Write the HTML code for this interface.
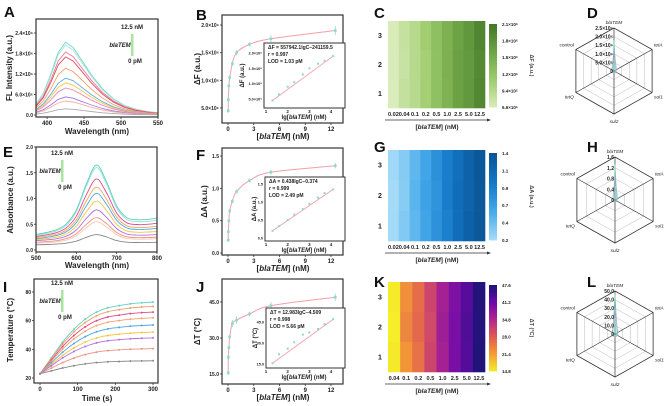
<!DOCTYPE html>
<html><head><meta charset="utf-8"><style>
html,body{margin:0;padding:0;background:#fff}
svg{display:block;font-family:"Liberation Sans",Arial,sans-serif}
</style></head><body>
<svg id="fig" width="669" height="406" viewBox="0 0 669 406" xmlns="http://www.w3.org/2000/svg"></svg>
<script>
// ---------- DATA ----------
const conc=[0.02,0.04,0.1,0.2,0.5,1.0,2.5,5.0,12.5];
const lgc=[1.3,1.6,2.0,2.3,2.7,3.0,3.4,3.7,4.1];
const dF=[0.45,0.65,0.9,1.05,1.3,1.5,1.65,1.75,1.9];
const errF=[0.04,0.05,0.05,0.04,0.04,0.05,0.04,0.06,0.08];
const dA=[0.2,0.33,0.5,0.65,0.8,0.95,1.12,1.25,1.35];
const errA=[0.03,0.03,0.03,0.03,0.03,0.03,0.03,0.04,0.04];
const dT=[15.5,22,26,30.5,36,37.5,40,43.5,47];
const errT=[1,1.2,1,1,1.5,1.5,1,1.5,1.5];
// spectra A
const wlA=[385,395,405,415,425,435,445,460,475,490,505,520,535,550];
const profA=[0.15,0.3,0.56,0.86,1.0,0.93,0.78,0.55,0.36,0.22,0.13,0.08,0.05,0.03];
const peaksA=[2.13,2.05,1.84,1.70,1.37,1.08,0.94,0.79,0.53,0.41,0.18];
const colA=['#6fd6c8','#a8e3dc','#f07a9a','#e04a5a','#f0a070','#5aaee0','#f5c84a','#f08ab0','#a57ae8','#f4b0a0','#aaaaaa'];
// spectra E
const wlE=[500,525,550,575,600,625,650,675,700,725,750,775,800];
const profE=[0,0.01,0.03,0.1,0.3,0.7,1,0.72,0.3,0.08,0.02,0,0];
const peaksE=[1.65,1.6,1.38,1.22,1.1,0.95,0.78,0.63,0.55,0.3];
const leftE=[0.3,0.28,0.26,0.24,0.22,0.2,0.18,0.15,0.13,0.1];
const rightE=[0.62,0.58,0.52,0.46,0.42,0.36,0.3,0.25,0.22,0.15];
const colE=['#5fd0b8','#8ee0e0','#e04a8a','#f0a860','#4aa8e0','#f5c542','#b070e0','#f09080','#f5c8b0','#888888'];
// temperature I
const timeI=[0,30,60,90,120,150,180,210,240,270,300];
const profI=[0,0.22,0.44,0.62,0.76,0.86,0.92,0.95,0.975,0.99,1];
const plateauI=[73,70,66,62,57,52,48,40.5,32];
const colI=['#5fd0c8','#f0a060','#e04a8a','#f5a070','#4aa8e0','#f5c542','#b070e0','#f09080','#888888'];
// heatmaps
const labC=['0.02','0.04','0.1','0.2','0.5','1.0','2.5','5.0','12.5'];
const heatC=[[6.8,8.3,9.6,11.2,13.1,14.8,16.4,17.6,19.6],[6.7,8.2,9.5,11.0,12.9,14.9,16.6,17.4,19.2],[6.6,8.4,9.4,11.1,13.0,14.7,16.5,17.5,19.4]];
const ticksC=['2.1×10⁶','1.8×10⁶','1.5×10⁶','1.2×10⁶','9.4×10⁵','6.6×10⁵'];
const heatG=[[0.24,0.35,0.5,0.64,0.8,0.95,1.1,1.25,1.38],[0.22,0.34,0.52,0.66,0.78,0.96,1.12,1.24,1.36],[0.23,0.36,0.5,0.65,0.79,0.94,1.11,1.26,1.37]];
const ticksG=['1.4','1.1','0.9','0.7','0.4','0.2'];
const labK=['0.04','0.1','0.2','0.5','1.0','2.5','5.0','12.5'];
const heatK=[[15.2,23,26.5,31,36,39.5,43,47.2],[15,24,27,30.5,36.5,40,43.5,47],[15.3,22.5,26,31,36,40,43.2,47.4]];
const ticksK=['47.6','41.2','34.8','28.0','21.4','14.8'];
// radar
const radarAxes=['blaTEM','tetA','sul1','sul2','tetQ','control'];
const radarD=[1.8,0.12,0.1,0.08,0.1,0.09];
const radarH=[1.35,0.08,0.06,0.05,0.07,0.05];
const radarL=[47,3,3,3,3,3];

// ---------- HELPERS ----------
const NS='http://www.w3.org/2000/svg';
const svg=document.getElementById('fig');
function mk(tag,attrs,parent,name,inter){
  const e=document.createElementNS(NS,tag);
  for(const k in attrs)e.setAttribute(k,attrs[k]);
  
  
  (parent||svg).appendChild(e);return e;
}
function txt(x,y,s,o,name,parent){
  o=o||{};
  const e=mk('text',{x:x,y:y,'font-size':o.size||5.5,'font-weight':o.bold===false?'normal':'bold','text-anchor':o.anchor||'middle',fill:o.fill||'#222','font-style':o.italic?'italic':'normal'},parent,name,false);
  if(o.rot)e.setAttribute('transform','rotate('+o.rot+' '+x+' '+y+')');
  e.innerHTML=s;return e;
}
function lin(d0,d1,r0,r1){return v=>r0+(v-d0)/(d1-d0)*(r1-r0);}
function box(x0,y0,x1,y1,name,w){mk('rect',{x:x0,y:y0,width:x1-x0,height:y1-y0,fill:'none',stroke:'#333',"stroke-width":w||1.2},svg,name,false);}
function yticks(vals,labels,sy,x0,name){vals.forEach((v,i)=>{const y=sy(v);
  mk('line',{x1:x0-2,x2:x0,y1:y,y2:y,stroke:'#333','stroke-width':0.8},svg,name+'-tick',false);
  txt(x0-3,y+2,labels[i],{anchor:'end',size:5},name+'-label');});}
function xticks(vals,labels,sx,y0,name,size,dy){vals.forEach((v,i)=>{const x=sx(v);
  mk('line',{x1:x,x2:x,y1:y0,y2:y0+2,stroke:'#333','stroke-width':0.8},svg,name+'-tick',false);
  txt(x,y0+(dy||8),labels[i],{size:size||6},name+'-label');});}
function pathOf(xs,ys){return xs.map((x,i)=>(i?'L':'M')+x.toFixed(1)+' '+ys[i].toFixed(1)).join(' ');}
function smooth(pts){let d='M'+pts[0][0]+' '+pts[0][1];
  for(let i=0;i<pts.length-1;i++){const p0=pts[i-1]||pts[i],p1=pts[i],p2=pts[i+1],p3=pts[i+2]||p2;
    d+=' C'+(p1[0]+(p2[0]-p0[0])/6).toFixed(1)+' '+(p1[1]+(p2[1]-p0[1])/6).toFixed(1)+' '+(p2[0]-(p3[0]-p1[0])/6).toFixed(1)+' '+(p2[1]-(p3[1]-p1[1])/6).toFixed(1)+' '+p2[0].toFixed(1)+' '+p2[1].toFixed(1);}
  return d;}
function panelLabel(x,y,s){txt(x,y,s,{size:15,anchor:'start',fill:'#111'},'panel-label-'+s.toLowerCase());}
function legendBar(x,y){txt(x+12,y,'12.5 nM',{size:6},'legend-high');
  mk('rect',{x:x+11,y:y+5,width:2.5,height:22,fill:'#a8e6a0'},svg,'legend-gradient-bar',false);
  txt(x,y+18,'blaTEM',{size:6,italic:true,anchor:'middle'},'legend-gene');
  txt(x+15,y+34,'0 pM',{size:6},'legend-low');}

// ---------- PANEL A ----------
panelLabel(4,17,'A');
(function(){const x0=36,x1=158,y0=19,y1=117;
 const sx=lin(385,550,x0,x1),sy=lin(0,2.4,115,33);
 peaksA.forEach((p,i)=>{mk('path',{d:pathOf(wlA.map(sx),profA.map(v=>sy(v*p))),fill:'none',stroke:colA[i],'stroke-width':0.9},svg,'spectrum-a-'+i,false);});
 box(x0,y0,x1,y1,'plot-a-frame');
 yticks([0,0.6,1.2,1.8,2.4],['0.0','6.0×10⁵','1.2×10⁶','1.8×10⁶','2.4×10⁶'],sy,x0,'a-ytick');
 xticks([400,450,500,550],['400','450','500','550'],sx,y1,'a-xtick');
 txt(97,134,'Wavelength (nm)',{size:8},'a-x-title');
 txt(12,68,'FL Intensity (a.u.)',{size:8,rot:-90},'a-y-title');
 legendBar(120,29);})();

// ---------- PANEL E ----------
panelLabel(3,157,'E');
(function(){const x0=36,x1=157,y0=147,y1=252;
 const sx=lin(500,800,x0,x1),sy=lin(0,2,250,147);
 peaksE.forEach((p,i)=>{const ys=wlE.map((w,j)=>{const b=leftE[i]+(rightE[i]-leftE[i])*j/(wlE.length-1);return sy(b+(p-b)*profE[j]);});
  mk('path',{d:smooth(wlE.map((w,j)=>[sx(w),ys[j]])),fill:'none',stroke:colE[i],'stroke-width':0.9},svg,'spectrum-e-'+i,false);});
 box(x0,y0,x1,y1,'plot-e-frame');
 yticks([0,0.5,1,1.5,2],['0.0','0.5','1.0','1.5','2.0'],sy,x0,'e-ytick');
 xticks([500,600,700,800],['500','600','700','800'],sx,y1,'e-xtick');
 txt(97,268,'Wavelength (nm)',{size:8},'e-x-title');
 txt(13,200,'Absorbance (a.u.)',{size:8,rot:-90},'e-y-title');
 legendBar(50,155);})();

// ---------- PANEL I ----------
panelLabel(3,292,'I');
(function(){const x0=34,x1=158,y0=279,y1=383;
 const sx=lin(0,300,40,153),sy=lin(20,80,378,292);
 plateauI.forEach((p,i)=>{const pts=timeI.map((t,j)=>[sx(t),sy(23+(p-23)*profI[j])]);
  mk('path',{d:smooth(pts),fill:'none',stroke:colI[i],'stroke-width':0.9},svg,'heating-curve-'+i,false);
  pts.forEach(q=>mk('circle',{cx:q[0],cy:q[1],r:1,fill:colI[i]},svg,'heating-point',false));});
 box(x0,y0,x1,y1,'plot-i-frame');
 yticks([20,40,60,80],['20','40','60','80'],sy,x0,'i-ytick');
 xticks([0,100,200,300],['0','100','200','300'],sx,y1,'i-xtick');
 txt(97,401,'Time (s)',{size:8},'i-x-title');
 txt(13,330,'Temperature (°C)',{size:8,rot:-90},'i-y-title');
 legendBar(50,285);})();

// ---------- CALIBRATION PANELS ----------
function calib(o){
 const x0=222,x1=343;
 const sx=lin(0,12,228,331),sy=lin(o.yd[0],o.yd[1],o.yr[0],o.yr[1]);
 const pts=conc.map((c,i)=>[sx(c),sy(o.vals[i])]);
 mk('path',{d:smooth(pts),fill:'none',stroke:'#f2a0a8','stroke-width':1},svg,o.id+'-fit-curve',false);
 pts.forEach((p,i)=>{const ee=Math.abs(sy(o.yd[0]+o.err[i])-sy(o.yd[0]));
  mk('line',{x1:p[0],x2:p[0],y1:p[1]-ee,y2:p[1]+ee,stroke:'#8fd8d0','stroke-width':0.8},svg,o.id+'-errorbar',false);
  mk('rect',{x:p[0]-1.3,y:p[1]-1.3,width:2.6,height:2.6,fill:'#8fd8d0'},svg,o.id+'-point',false);});
 box(x0,o.top,x1,o.bot,o.id+'-frame');
 yticks(o.yt,o.ytl,sy,x0,o.id+'-ytick');
 xticks([0,3,6,9,12],['0','3','6','9','12'],sx,o.bot,o.id+'-xtick');
 txt(283,o.bot+16,'[<tspan font-style="italic">blaTEM</tspan>] (nM)',{size:8},o.id+'-x-title');
 txt(o.ytx,(o.top+o.bot)/2,o.ytitle,{size:8,rot:-90},o.id+'-y-title');
 // inset
 const ib=o.inset;
 mk('rect',{x:ib[0],y:ib[1],width:ib[2]-ib[0],height:ib[3]-ib[1],fill:'#fff',stroke:'#333','stroke-width':1},svg,o.id+'-inset-frame',false);
 const ix=lin(1,4,266,331),iy=lin(o.iyd[0],o.iyd[1],o.iyr[0],o.iyr[1]);
 const ipts=lgc.map((l,i)=>[ix(l),iy(o.vals[i])]);
 mk('line',{x1:ipts[0][0],y1:ipts[0][1],x2:ipts[8][0],y2:ipts[8][1],stroke:'#f2a0a8','stroke-width':0.9},svg,o.id+'-inset-fit',false);
 ipts.forEach(p=>mk('rect',{x:p[0]-1,y:p[1]-1,width:2,height:2,fill:'#8fd8d0'},svg,o.id+'-inset-point',false));
 o.iyt.forEach((v,i)=>{txt(ib[0]-2,iy(v)+1.5,o.iytl[i],{anchor:'end',size:3.8},o.id+'-inset-ytick');});
 [1,2,3,4].forEach(v=>txt(ix(v),ib[3]+5,String(v),{size:4.5},o.id+'-inset-xtick'));
 txt(304,ib[3]+11,'lg[<tspan font-style="italic">blaTEM</tspan>] (nM)',{size:6},o.id+'-inset-x-title');
 txt(o.iytx,(ib[1]+ib[3])/2,o.iytitle,{size:6,rot:-90},o.id+'-inset-y-title');
 o.eq.forEach((s,i)=>txt(ib[0]+4,ib[1]+6+i*7,s,{size:5,anchor:'start'},o.id+'-equation-line'));
}
panelLabel(196,20,'B');
calib({id:'b',vals:dF,err:errF,yd:[0.5,2.0],yr:[108,25],top:15,bot:123,yt:[0.5,1,1.5,2],ytl:['5.0×10⁵','1.0×10⁶','1.5×10⁶','2.0×10⁶'],ytx:200,ytitle:'ΔF (a.u.)',
 inset:[264,43,345,108],iyd:[0.5,2.0],iyr:[99,53],iyt:[0.5,1,1.5,2],iytl:['5.0×10⁵','1.0×10⁶','1.5×10⁶','2.0×10⁶'],iytx:244,iytitle:'ΔF (a.u.)',
 eq:['ΔF = 557942.1lgC−241159.5','r = 0.997','LOD = 1.03 pM']});
panelLabel(196,160,'F');
calib({id:'f',vals:dA,err:errA,yd:[0,1.5],yr:[253,156],top:148,bot:255,yt:[0,0.5,1,1.5],ytl:['0.0','0.5','1.0','1.5'],ytx:207,ytitle:'ΔA (a.u.)',
 inset:[265,177,345,241],iyd:[0,1.5],iyr:[238,184],iyt:[0,0.5,1,1.5],iytl:['0.0','0.5','1.0','1.5'],iytx:256,iytitle:'ΔA (a.u.)',
 eq:['ΔA = 0.438lgC−0.374',' r = 0.999','LOD = 2.49 pM']});
panelLabel(196,292,'J');
calib({id:'j',vals:dT,err:errT,yd:[15,45],yr:[374,302],top:279,bot:384,yt:[15,30,45],ytl:['15.0','30.0','45.0'],ytx:200,ytitle:'ΔT (°C)',
 inset:[266,308,345,368],iyd:[15,45],iyr:[364,322],iyt:[15,30,45],iytl:['15.0','30.0','45.0'],iytx:257,iytitle:'ΔT (°C)',
 eq:['ΔT = 12.983lgC−4.509',' r = 0.998','LOD = 5.66 pM']});

// ---------- HEATMAPS ----------
function interp(stops,t){t=Math.max(0,Math.min(1,t));const n=stops.length-1,k=Math.min(n-1,Math.floor(t*n)),f=t*n-k;
 const a=stops[k],b=stops[k+1];return 'rgb('+[0,1,2].map(i=>Math.round(a[i]+(b[i]-a[i])*f)).join(',')+')';}
function heat(o){
 const x0=388,x1=485,rows=o.data.length,cols=o.labels.length,cw=(x1-x0)/cols,rh=(o.y1-o.y0)/rows;
 o.data.forEach((row,r)=>row.forEach((v,c)=>{
  mk('rect',{x:(x0+c*cw).toFixed(2),y:(o.y0+r*rh).toFixed(2),width:(cw+0.3).toFixed(2),height:(rh+0.3).toFixed(2),fill:interp(o.stops,(v-o.min)/(o.max-o.min))},svg,o.id+'-cell',false);}));
 ['3','2','1'].forEach((s,r)=>txt(380,o.y0+rh*(r+0.5)+2.5,s,{size:7},o.id+'-row-label'));
 o.labels.forEach((s,c)=>txt(x0+cw*(c+0.5),o.y1+8,s,{size:5.6},o.id+'-col-label'));
 mk('line',{x1:385,x2:488,y1:o.y1+12,y2:o.y1+12,stroke:'#333','stroke-width':0.8},svg,o.id+'-axis-arrow',false);
 mk('path',{d:'M491 '+(o.y1+12)+' l-4 -1.5 l0 3 z',fill:'#333'},svg,o.id+'-arrowhead',false);
 txt(437,o.y1+21,'[<tspan font-style="italic">blaTEM</tspan>] (nM)',{size:6.5},o.id+'-x-title');
 const cy0=o.y0+3,cy1=o.y1-1,n=40;
 for(let i=0;i<n;i++){mk('rect',{x:489,y:(cy0+(cy1-cy0)*i/n).toFixed(2),width:8,height:((cy1-cy0)/n+0.4).toFixed(2),fill:interp(o.stops,1-i/n)},svg,o.id+'-colorbar-step',false);}
 o.ticks.forEach((s,i)=>txt(502,cy0+(cy1-cy0)*i/(o.ticks.length-1)+2,s,{size:4.5,anchor:'start'},o.id+'-colorbar-tick'));
 txt(530,(cy0+cy1)/2,o.title,{size:5.5,rot:90,fill:'#444'},o.id+'-colorbar-title');
}
panelLabel(374,18,'C');
heat({id:'c',data:heatC,labels:labC,y0:21,y1:108,min:6.6,max:21,ticks:ticksC,title:'ΔF (a.u.)',stops:[[218,236,188],[160,205,110],[110,165,70],[70,120,40]]});
panelLabel(374,152,'G');
heat({id:'g',data:heatG,labels:labC,y0:150,y1:241,min:0.2,max:1.4,ticks:ticksG,title:'ΔA (a.u.)',stops:[[170,222,248],[70,170,235],[20,120,200],[10,85,150]]});
panelLabel(374,287,'K');
heat({id:'k',data:heatK,labels:labK,y0:282,y1:372,min:14.8,max:47.6,ticks:ticksK,title:'ΔT (°C)',stops:[[245,240,40],[245,160,50],[225,95,80],[180,40,140],[110,10,170],[30,20,120]]});

// ---------- RADAR ----------
function radar(o){
 const cx=o.cx,cy=o.cy,rx=44,ry=43,ang=[90,30,-30,-90,-150,150];
 const pt=(i,f)=>[cx+rx*f*Math.cos(ang[i]*Math.PI/180),cy-ry*f*Math.sin(ang[i]*Math.PI/180)];
 for(let k=1;k<=o.rings;k++){const f=k/o.rings;
  mk('polygon',{points:ang.map((a,i)=>pt(i,f).join(',')).join(' '),fill:'none',stroke:k==o.rings?'#333':'#bbb','stroke-width':k==o.rings?0.8:0.5},svg,o.id+'-ring',false);}
 ang.forEach((a,i)=>{const p=pt(i,1);mk('line',{x1:cx,y1:cy,x2:p[0],y2:p[1],stroke:'#333','stroke-width':0.7},svg,o.id+'-spoke',false);});
 mk('polygon',{points:o.vals.map((v,i)=>pt(i,v/o.max).join(',')).join(' '),fill:'rgba(140,220,200,0.5)',stroke:'#6fcfb8','stroke-width':0.6},svg,o.id+'-series-polygon',false);
 mk('polygon',{points:o.vals.map((v,i)=>pt(i,(v*0.6+o.max*0.04)/o.max).join(',')).join(' '),fill:'none',stroke:'#b59ae0','stroke-width':0.5},svg,o.id+'-error-polygon',false);
 o.ticks.forEach((s,k)=>txt(cx-1,cy-ry*k/o.rings+2,s,{size:5,anchor:'end'},o.id+'-tick'));
 const sxv=rx*0.866;
 const lp=[[cx,cy-ry-4,'middle'],[cx+sxv+2,cy-ry*0.5-3,'start'],[cx+sxv+2,cy+ry*0.5+6,'start'],[cx,cy+ry+9,'middle'],[cx-sxv-2,cy+ry*0.5+6,'end'],[cx-sxv-2,cy-ry*0.5-3,'end']];
 radarAxes.forEach((s,i)=>txt(lp[i][0],lp[i][1],s,{size:4.8,anchor:lp[i][2],bold:false,italic:i<5},o.id+'-axis-label'));
}
panelLabel(587,18,'D');
radar({id:'d',cx:614,cy:71,vals:radarD,max:2.5,rings:5,ticks:['0','5.0×10⁵','1.0×10⁶','1.5×10⁶','2.0×10⁶','2.5×10⁶']});
panelLabel(587,152,'H');
radar({id:'h',cx:615,cy:200,vals:radarH,max:1.6,rings:4,ticks:['0','0.4','0.8','1.2','1.6']});
panelLabel(587,287,'L');
radar({id:'l',cx:615,cy:334,vals:radarL,max:50,rings:5,ticks:['0','10.0','20.0','30.0','40.0','50.0']});
</script>
</body></html>
